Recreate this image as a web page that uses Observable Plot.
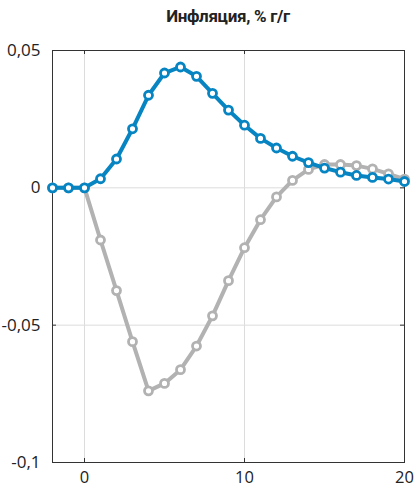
<!DOCTYPE html>
<html>
<head>
<meta charset="utf-8">
<script src="https://cdn.jsdelivr.net/npm/d3@7"></script>
<script src="https://cdn.jsdelivr.net/npm/@observablehq/plot@0.6"></script>
<style>
  html, body { margin: 0; padding: 0; background: #fff; }
  #wrap { position: relative; width: 414px; height: 491px; }
  #title { position: absolute; left: 52px; width: 352px; top: 6px; text-align: center;
           font-family: Roboto, sans-serif; font-weight: bold; font-size: 17px; color: #222; letter-spacing: -0.3px; }
</style>
</head>
<body>
<div id="wrap">
  <div id="title">Инфляция, % г/г</div>
  <div id="chart"></div>
</div>
<script>
const horizon = [-2,-1,0,1,2,3,4,5,6,7,8,9,10,11,12,13,14,15,16,17,18,19,20];
const blueValues = [0,0,0,0.0033,0.0105,0.0215,0.0337,0.0418,0.0440,0.0406,0.0344,0.0283,0.0228,0.0180,0.0145,0.0115,0.0092,0.0072,0.0057,0.0045,0.0038,0.0032,0.0023];
const grayValues = [0,0,0,-0.0190,-0.0374,-0.0560,-0.0739,-0.0712,-0.0662,-0.0576,-0.0466,-0.0338,-0.0218,-0.0116,-0.0033,0.0027,0.0067,0.0085,0.0085,0.0081,0.0069,0.0051,0.0032];
const xTicks = [0,10,20];
const yTicks = [0.05,0,-0.05,-0.1];
const xGrid = [0,10];
const yGrid = [0,-0.05];

const blue = horizon.map((h,i) => ({h, v: blueValues[i]}));
const gray = horizon.map((h,i) => ({h, v: grayValues[i]}));

const W = 414, H = 491, mL = 52, mR = 10, mT = 50, mB = 29;
const fw = W - mL - mR, fh = H - mT - mB, tick = 4;
const fmt = d => String(d).replace(".", ",");
const blueC = "#0784c2", grayC = "#b2b2b2";

const chart = Plot.plot({
  width: W, height: H,
  marginLeft: mL, marginRight: mR, marginTop: mT, marginBottom: mB,
  style: {fontFamily: "'Open Sans', sans-serif", fontSize: "17px", color: "#222", overflow: "visible"},
  x: {domain: [-2, 20], label: null},
  y: {domain: [-0.1, 0.05], label: null},
  marks: [
    Plot.ruleX(xGrid, {stroke: "#dcdcdc", strokeWidth: 1}),
    Plot.ruleY(yGrid, {stroke: "#dcdcdc", strokeWidth: 1}),
    Plot.ruleX(xGrid, {stroke: "#333", insetTop: fh - tick}),
    Plot.ruleX(xGrid, {stroke: "#333", insetBottom: fh - tick}),
    Plot.ruleY(yGrid, {stroke: "#333", insetRight: fw - tick}),
    Plot.ruleY(yGrid, {stroke: "#333", insetLeft: fw - tick}),
    Plot.frame({stroke: "#333", strokeWidth: 1}),
    Plot.axisX(xTicks, {anchor: "bottom", tickSize: 0, tickPadding: 9, tickFormat: fmt, fontSize: 16.5, label: null}),
    Plot.axisY(yTicks, {anchor: "left", tickSize: 0, tickPadding: 12, tickFormat: fmt, fontSize: 17, label: null}),
    Plot.line(gray, {x: "h", y: "v", stroke: grayC, strokeWidth: 4}),
    Plot.dot(gray, {x: "h", y: "v", r: 4, stroke: grayC, strokeWidth: 2.8, fill: "white"}),
    Plot.line(blue, {x: "h", y: "v", stroke: blueC, strokeWidth: 4}),
    Plot.dot(blue, {x: "h", y: "v", r: 4, stroke: blueC, strokeWidth: 2.8, fill: "white"})
  ]
});
document.getElementById("chart").appendChild(chart);
</script>
</body>
</html>
